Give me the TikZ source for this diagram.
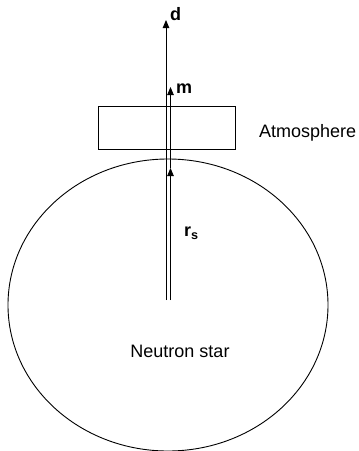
\documentclass[tikz,border=0pt]{standalone}
\usepackage{fontspec}
\setmainfont{Liberation Sans}
\usetikzlibrary{arrows.meta}
\begin{document}
\begin{tikzpicture}[x=1pt,y=-1pt,
  line/.style={line width=0.9pt},
  vec/.style={line width=0.9pt,-{Triangle[length=8pt,width=6.5pt]}},
  lbl/.style={font=\fontsize{18}{21}\selectfont,inner sep=0pt},
  blbl/.style={font=\fontsize{18}{21}\selectfont\bfseries,inner sep=0pt}]
\useasboundingbox (0,0) rectangle (359,451);
% neutron star
\draw[line] (168,305) ellipse [x radius=160, y radius=146];
% atmosphere
\draw[line] (98,106) rectangle (235,149);
% vectors
\coordinate (dbase) at (166,300);
\coordinate (dtip) at (166,20);
\coordinate (rbase) at (170.5,300);
\coordinate (rtip) at (170.5,168);
\coordinate (mtip) at (170.5,87);
\draw[vec] (dbase) -- (dtip);
\draw[vec] (rbase) -- (rtip);
\draw[vec] (rtip) -- (mtip);
% labels
\node[blbl,anchor=west] (d) at (170,14) {d};
\node[blbl,anchor=west] (m) at (176,89) {m};
\node[blbl,anchor=west] (rs) at (184,233) {r\textsubscript{s}};
\node[lbl,anchor=west] (atm) at (259,133) {Atmosphere};
\node[lbl] (ns) at (180,351) {Neutron star};
\end{tikzpicture}
\end{document}
